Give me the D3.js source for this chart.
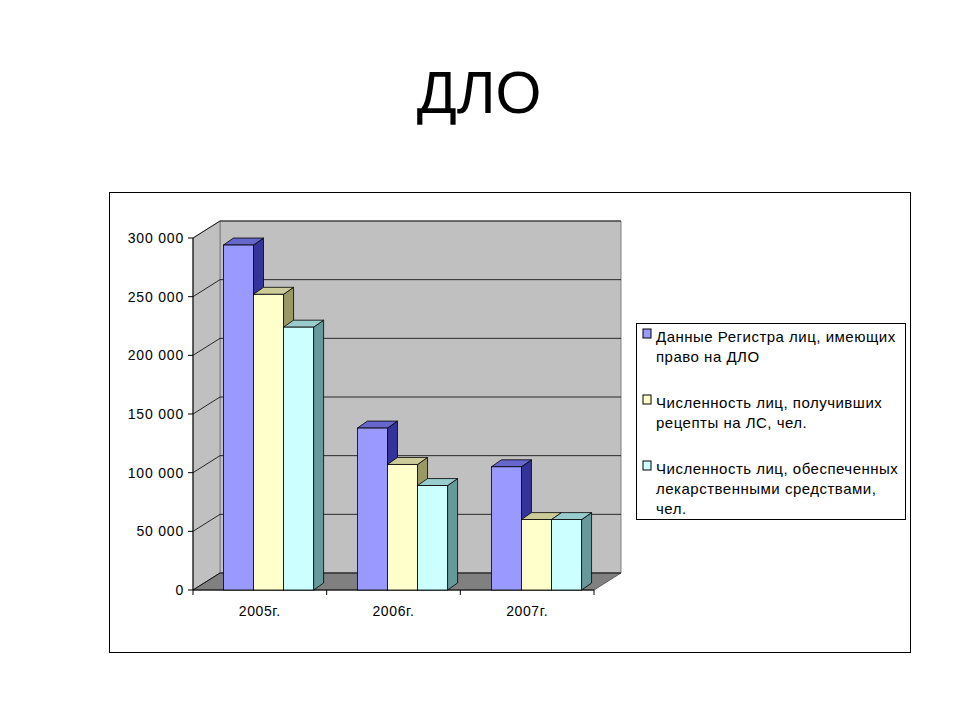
<!DOCTYPE html><html><head><meta charset="utf-8"><script src="https://cdn.jsdelivr.net/npm/d3@7"></script>
<style>body{margin:0;background:#fff}</style></head><body><svg id="c" width="960" height="720"></svg><script>
const categories=["2005г.","2006г.","2007г."];
const seriesNames=["Данные Регистра лиц, имеющих право на ДЛО","Численность лиц, получивших рецепты на ЛС, чел.","Численность лиц, обеспеченных лекарственными средствами, чел."];
const legendLines=[["Данные Регистра лиц, имеющих","право на ДЛО"],["Численность лиц, получивших","рецепты на ЛС, чел."],["Численность лиц, обеспеченных","лекарственными средствами,","чел."]];
const registry=[294000,138000,105000];
const prescribed=[252000,107000,60000];
const supplied=[224000,89000,60000];
const ticks=[0,50000,100000,150000,200000,250000,300000];
const colors=["#9999FF","#FFFFCC","#CCFFFF"];
const sideColors=["#333399","#999966","#669999"];
const topColors=["#6666CC","#CCCC99","#99CCCC"];
const series=[registry,prescribed,supplied];
(function(){
const svg=d3.select("#c");const F="Arial, Liberation Sans, sans-serif";
svg.append("text").attr("x",479).attr("y",113).attr("text-anchor","middle").attr("font-family",F).attr("font-size",59).text("ДЛО");
svg.append("rect").attr("x",109.5).attr("y",192.5).attr("width",801).attr("height",460).attr("fill","#fff").attr("stroke","#000");
const x0=193,x1=594,yb=590,dx=27,dy=-17;
const y=d3.scaleLinear().domain([0,300000]).range([yb,238]);
const x=d3.scaleBand().domain(categories).range([x0+9,x1+9]).paddingInner(0.327).paddingOuter(0.16);
const xs=d3.scaleBand().domain([0,1,2]).range([0,x.bandwidth()]);
const xl=d3.scaleBand().domain(categories).range([x0,x1]);
const wtop=y(300000)+dy;
svg.append("path").attr("d",`M${x0+dx},${wtop}L${x1+dx},${wtop}L${x1+dx},${yb+dy}L${x0+dx},${yb+dy}Z`).attr("fill","#C0C0C0").attr("stroke","#808080");
svg.append("path").attr("d",`M${x0},${y(300000)}L${x0+dx},${wtop}L${x0+dx},${yb+dy}L${x0},${yb}Z`).attr("fill","#C0C0C0").attr("stroke","#808080");
svg.append("path").attr("d",`M${x0},${yb}L${x0+dx},${yb+dy}L${x1+dx},${yb+dy}L${x1},${yb}Z`).attr("fill","#808080").attr("stroke","#606060");
ticks.forEach(t=>{const yy=y(t);
 svg.append("path").attr("d",`M${x0},${yy}L${x0+dx},${yy+dy}L${x1+dx},${yy+dy}`).attr("fill","none").attr("stroke","#000").attr("stroke-width",0.8);
 svg.append("line").attr("x1",x0-5).attr("x2",x0).attr("y1",yy).attr("y2",yy).attr("stroke","#000");
 svg.append("text").attr("x",x0-9).attr("y",yy+5).attr("text-anchor","end").attr("font-family",F).attr("font-size",14).attr("letter-spacing",0.8).text(d3.format(",")(t).replace(/,/g," "));});
svg.append("line").attr("x1",x0).attr("x2",x0).attr("y1",y(300000)).attr("y2",yb).attr("stroke","#000");
svg.append("line").attr("x1",x0).attr("x2",x1).attr("y1",yb).attr("y2",yb).attr("stroke","#000");
categories.forEach(c=>svg.append("line").attr("x1",xl(c)).attr("x2",xl(c)).attr("y1",yb).attr("y2",yb+5).attr("stroke","#000"));
svg.append("line").attr("x1",x1).attr("x2",x1).attr("y1",yb).attr("y2",yb+5).attr("stroke","#000");
categories.forEach(c=>svg.append("text").attr("x",xl(c)+xl.bandwidth()/2).attr("y",yb+26).attr("text-anchor","middle").attr("font-family",F).attr("font-size",14).attr("letter-spacing",0.6).text(c));
const bdx=10,bdy=-7;
categories.forEach((c,i)=>{series.forEach((s,k)=>{const bx=x(c)+xs(k),w=xs.bandwidth(),ty=y(s[i]);
 const g=svg.append("g").attr("stroke","#000").attr("stroke-width",0.8);
 g.append("path").attr("d",`M${bx+w},${ty}L${bx+w+bdx},${ty+bdy}L${bx+w+bdx},${yb+bdy}L${bx+w},${yb}Z`).attr("fill",sideColors[k]);
 g.append("path").attr("d",`M${bx},${ty}L${bx+bdx},${ty+bdy}L${bx+w+bdx},${ty+bdy}L${bx+w},${ty}Z`).attr("fill",topColors[k]);
 g.append("rect").attr("x",bx).attr("y",ty).attr("width",w).attr("height",yb-ty).attr("fill",colors[k]);});});
svg.append("rect").attr("x",636.5).attr("y",323.5).attr("width",269).attr("height",196).attr("fill","#fff").attr("stroke","#000");
const ly=[337,403,469];
legendLines.forEach((ls,k)=>{svg.append("rect").attr("x",643).attr("y",ly[k]-8).attr("width",8).attr("height",9).attr("fill",colors[k]).attr("stroke","#000");
 ls.forEach((l,j)=>svg.append("text").attr("x",656).attr("y",ly[k]+j*20+5).attr("font-family",F).attr("font-size",15).attr("letter-spacing",0.5).text(l));});
})();
</script></body></html>
